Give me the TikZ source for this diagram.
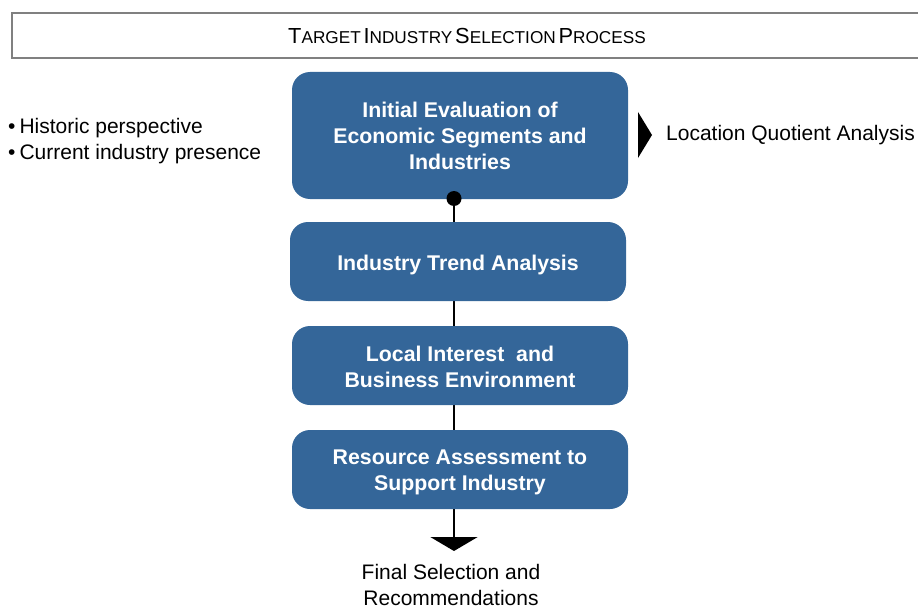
\documentclass[tikz,border=0pt]{standalone}
\usepackage{fontspec}
\setmainfont{Liberation Sans}
\usetikzlibrary{arrows.meta,backgrounds}
\definecolor{boxblue}{RGB}{52,102,153}
\definecolor{titlegray}{RGB}{128,128,128}
\newcommand\BigC[1]{{\fontsize{21.8}{24}\selectfont #1}}
\newcommand\SmlC[1]{{\fontsize{17.2}{24}\selectfont #1}}
\begin{document}
\begin{tikzpicture}[x=1pt,y=-1pt,
  stepbox/.style={draw=none,fill=boxblue,rounded corners=18pt,text=white,
    font=\fontsize{21.3}{26}\selectfont\bfseries,align=center,
    minimum width=336pt,inner sep=0pt},
  plaintext/.style={font=\fontsize{21}{26}\selectfont,inner sep=0pt},
  conn/.style={line width=2.6pt,black}]
\useasboundingbox (0,0) rectangle (918,607);
\clip (0,0) rectangle (918,607);
% title
\node[draw=titlegray,line width=2pt,minimum width=930pt,minimum height=45pt,
  anchor=north west,inner sep=0pt] (title) at (11,12) {};
\node[inner sep=0pt] (titletext) at (467,36)
  {\BigC{T}\SmlC{ARGET} \BigC{I}\SmlC{NDUSTRY} \BigC{S}\SmlC{ELECTION} \BigC{P}\SmlC{ROCESS}};
% boxes
\node[stepbox,minimum height=127pt] (b1) at (460,135.5)
  {Initial Evaluation of\\Economic Segments and\\Industries};
\node[stepbox,minimum height=79pt] (b2) at (458,261.5) {};
\node[text=white,font=\fontsize{21.3}{26}\selectfont\bfseries,inner sep=0pt] (b2t) at (458,264.5) {Industry Trend Analysis};
\node[stepbox,minimum height=79pt] (b3) at (460,365.5) {};
\node[text=white,font=\fontsize{21.3}{26}\selectfont\bfseries,align=center,inner sep=0pt] (b3t) at (460,367) {Local Interest\ \ and\\Business Environment};
\node[stepbox,minimum height=79pt] (b4) at (460,469.5) {};
\node[text=white,font=\fontsize{21.3}{26}\selectfont\bfseries,align=center,inner sep=0pt] (b4t) at (460,472.5) {Resource Assessment to\\Support Industry};
% connector
\coordinate (dot) at (454,198.5);
\coordinate (tip) at (454,551);
\begin{scope}[on background layer]
\draw[conn,-{Triangle[width=47pt,length=14pt]}] (dot) -- (tip);
\end{scope}
\fill[black] (dot) circle (7.5pt);
% side texts
\node[plaintext,anchor=west,align=left] (bul) at (8,141)
  {\textbullet\hspace{4pt}Historic perspective\\\textbullet\hspace{4pt}Current industry presence};
\fill[black] (638,112) -- (652,135) -- (638,158) -- cycle;
\node[plaintext,anchor=west] (lq) at (666,135) {Location Quotient Analysis};
\node[plaintext,align=center] (final) at (451,585) {Final Selection and\\Recommendations};
\end{tikzpicture}
\end{document}
